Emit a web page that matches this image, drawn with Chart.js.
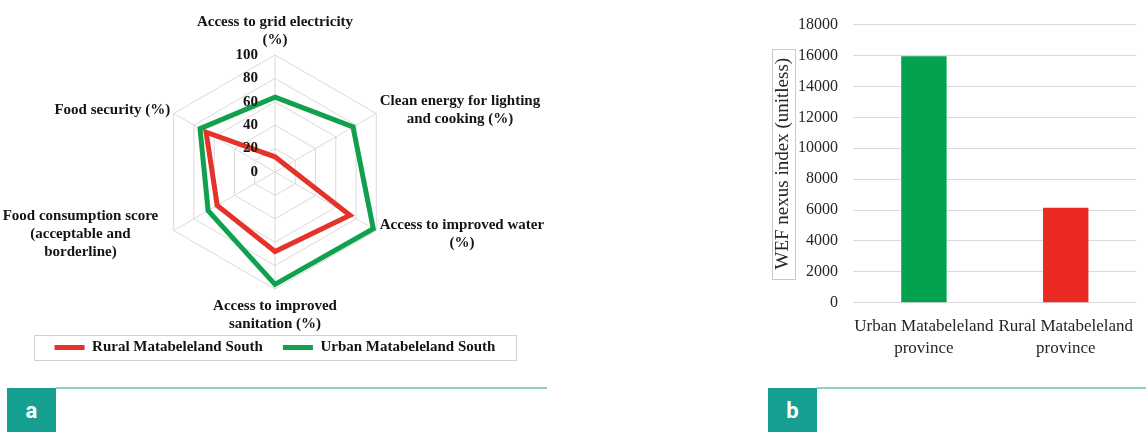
<!DOCTYPE html>
<html><head><meta charset="utf-8">
<script src="https://cdn.jsdelivr.net/npm/chart.js@4.4.1/dist/chart.umd.min.js"></script>
<style>
html,body{margin:0;padding:0;background:#fff;width:1146px;height:432px;overflow:hidden;position:relative;font-family:'Liberation Serif',serif;}
#wrapA{position:absolute;left:0;top:0;width:550px;height:365px;}
#wrapB{position:absolute;left:757px;top:0;width:389px;height:379px;}
.tag{position:absolute;top:388px;width:49px;height:44px;background:#17a091;color:#fff;font-family:Roboto,'Open Sans',sans-serif;font-weight:700;font-size:22px;line-height:46px;text-align:center;}
.rule{position:absolute;top:387px;height:2px;background:#8fd0c8;}
</style></head><body>
<div id="wrapA"><canvas id="radar"></canvas></div>
<div id="wrapB"><canvas id="bar"></canvas></div>
<div class="rule" style="left:56px;width:491px"></div>
<div class="tag" style="left:7px">a</div>
<div class="rule" style="left:817px;width:329px"></div>
<div class="tag" style="left:768px">b</div>
<script>
// ---------- data ----------
const radarCategories = [
  ['Access to grid electricity', '(%)'],
  ['Clean energy for lighting', 'and cooking (%)'],
  ['Access to improved water', '(%)'],
  ['Access to improved', 'sanitation (%)'],
  ['Food consumption score', '(acceptable and', 'borderline)'],
  ['Food security (%)']
];
const seriesNames = ['Rural Matabeleland South', 'Urban Matabeleland South'];
const ruralValues = [13, 11, 74, 68, 57, 68];
const urbanValues = [64, 77, 97, 96, 66, 74];
const radarTickValues = [0, 20, 40, 60, 80, 100];

const barCategories = [['Urban Matabeleland', 'province'], ['Rural Matabeleland', 'province']];
const nexusValues = [15950, 6150];
const barTickValues = [0, 2000, 4000, 6000, 8000, 10000, 12000, 14000, 16000, 18000];
const barAxisTitle = 'WEF nexus index (unitless)';

// ---------- styles ----------
const RED = '#e5332a';
const GREEN = '#11a04e';
const BAR_GREEN = '#03a24e';
const BAR_RED = '#ec2a24';
const SERIF = '"Liberation Serif", "Times New Roman", serif';
const GRID = '#d9d9d9';

const radarText = {
  id: 'radarText',
  afterDatasetsDraw(chart, args, opts) {
    const s = chart.scales.r, ctx = chart.ctx;
    ctx.save();
    ctx.fillStyle = '#141414';
    ctx.font = 'bold 15px ' + SERIF;
    ctx.textAlign = 'right';
    ctx.textBaseline = 'middle';
    s.ticks.forEach(t => {
      const d = s.getDistanceFromCenterForValue(t.value);
      ctx.fillText(String(t.value), s.xCenter - 17, s.yCenter - d);
    });
    const lh = 18;
    chart.data.labels.forEach((lines, i) => {
      const p = s.getPointPosition(i, s.drawingArea + 4);
      const dx = p.x - s.xCenter, dy = p.y - s.yCenter;
      const bw = Math.max(...lines.map(l => ctx.measureText(l).width));
      const n = lines.length;
      let cx, firstY;
      if (Math.abs(dx) < 1) {
        cx = p.x;
        firstY = dy < 0 ? p.y - 11 - (n - 1) * lh : p.y + 13;
      } else {
        const shift = (opts.shift && opts.shift[i]) || 0;
        cx = dx > 0 ? p.x + bw / 2 + shift : p.x - bw / 2 + shift;
        const cy = p.y + (dy > 0 ? 2 : -1);
        firstY = cy - (n - 1) * lh / 2;
      }
      ctx.textAlign = 'center';
      lines.forEach((l, k) => ctx.fillText(l, cx, firstY + k * lh));
    });
    ctx.restore();
  },
  afterDraw(chart) {
    const hb = chart.legend && chart.legend.legendHitBoxes;
    if (!hb || !hb.length) return;
    const ctx = chart.ctx;
    const l = Math.min(...hb.map(h => h.left)) - 21;
    const r = Math.max(...hb.map(h => h.left + h.width)) + 20;
    const t = hb[0].top - 5, b = hb[0].top + hb[0].height + 5;
    ctx.save();
    ctx.strokeStyle = '#d0d0d0';
    ctx.lineWidth = 1;
    ctx.strokeRect(Math.round(l) + 0.5, Math.round(t) + 0.5, Math.round(r - l), Math.round(b - t));
    ctx.restore();
  }
};

new Chart(document.getElementById('radar'), {
  type: 'radar',
  data: {
    labels: radarCategories,
    datasets: [
      { label: seriesNames[0], data: ruralValues, borderColor: RED, backgroundColor: 'transparent', borderWidth: 5,
        pointRadius: 0, pointHoverRadius: 0, fill: false, borderJoinStyle: 'miter', borderCapStyle: 'round' },
      { label: seriesNames[1], data: urbanValues, borderColor: GREEN, backgroundColor: 'transparent', borderWidth: 5,
        pointRadius: 0, pointHoverRadius: 0, fill: false, borderJoinStyle: 'miter', borderCapStyle: 'round' }
    ]
  },
  options: {
    animation: false, responsive: true, maintainAspectRatio: false,
    layout: { padding: { top: 55, left: 0, right: 0, bottom: 0 } },
    scales: {
      r: {
        min: radarTickValues[0], max: radarTickValues[radarTickValues.length - 1],
        ticks: { display: false, stepSize: radarTickValues[1] - radarTickValues[0] },
        pointLabels: { display: false },
        grid: { color: GRID, lineWidth: 1 },
        angleLines: { display: true, color: GRID, lineWidth: 1 }
      }
    },
    plugins: {
      tooltip: { enabled: false },
      radarText: { shift: [0, 0, 0, 0, -12, 0] },
      legend: {
        position: 'bottom',
        title: { display: true, text: ' ', font: { size: 10 }, padding: { top: 19, bottom: 0 } },
        labels: {
          usePointStyle: true, pointStyle: 'line', pointStyleWidth: 30, padding: 20,
          color: '#141414', font: { family: SERIF, size: 15, weight: 'bold' }
        }
      }
    }
  },
  plugins: [radarText]
});

const axisBox = {
  id: 'axisBox',
  afterDraw(chart) {
    const s = chart.scales.y, ctx = chart.ctx;
    const f = 19, lh = f * 1.2;
    const cx = s.left + 8 + lh / 2;
    const cy = (s.top + s.bottom) / 2;
    ctx.save();
    ctx.font = f + 'px ' + SERIF;
    const w = ctx.measureText(barAxisTitle).width;
    const bw = 23, bh = w + 18;
    ctx.strokeStyle = '#c8c8c8';
    ctx.lineWidth = 1;
    ctx.strokeRect(Math.round(cx - bw / 2) + 0.5, Math.round(cy - bh / 2) + 0.5, bw, Math.round(bh));
    ctx.restore();
  }
};

new Chart(document.getElementById('bar'), {
  type: 'bar',
  data: {
    labels: barCategories,
    datasets: [{ data: nexusValues, backgroundColor: [BAR_GREEN, BAR_RED], barPercentage: 0.32, categoryPercentage: 1 }]
  },
  options: {
    animation: false, responsive: true, maintainAspectRatio: false,
    layout: { padding: { left: 7, top: 23, right: 0, bottom: 6 } },
    plugins: { legend: { display: false }, tooltip: { enabled: false } },
    scales: {
      x: {
        grid: { display: false, drawTicks: false }, border: { display: false },
        ticks: { color: '#262626', font: { family: SERIF, size: 17, lineHeight: 1.3 }, padding: 13, maxRotation: 0, autoSkip: false }
      },
      y: {
        min: barTickValues[0], max: barTickValues[barTickValues.length - 1],
        afterBuildTicks: s => { s.ticks = barTickValues.map(v => ({ value: v })); },
        afterFit: s => { s.width = 89; },
        ticks: { padding: 15, color: '#262626', font: { family: SERIF, size: 16 }, callback: v => String(v) },
        grid: { color: GRID, drawTicks: false, lineWidth: 1 },
        border: { display: false },
        title: { display: true, text: barAxisTitle, color: '#262626', font: { family: SERIF, size: 19 }, padding: { top: 8, bottom: 0 } }
      }
    }
  },
  plugins: [axisBox]
});
</script>
</body></html>
